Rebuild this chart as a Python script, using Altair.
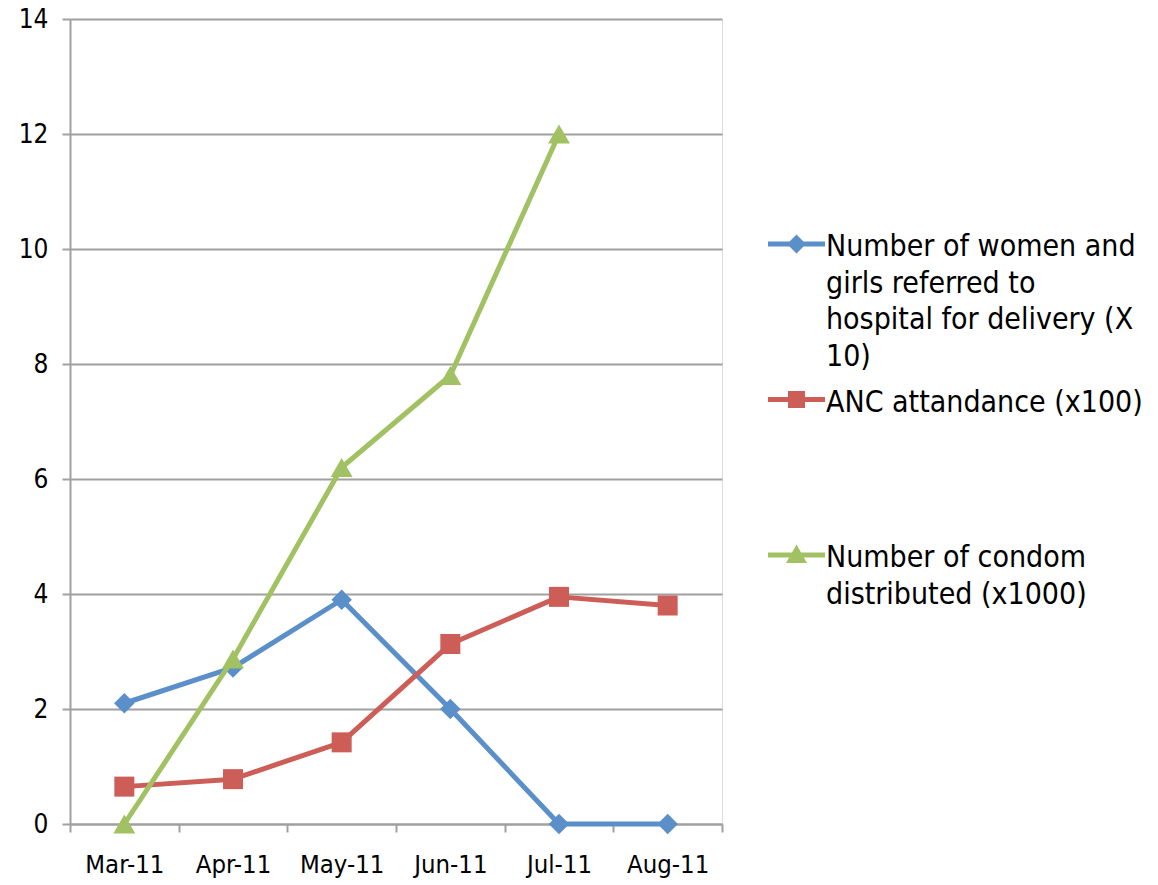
import json
import altair as alt
import pandas as pd

months = ["Mar-11", "Apr-11", "May-11", "Jun-11", "Jul-11", "Aug-11"]
series_names = [
    "Number of women and girls referred to hospital for delivery (X 10)",
    "ANC attandance (x100)",
    "Number of condom distributed (x1000)",
]
referred = [2.1, 2.72, 3.9, 2.0, 0.0, 0.0]
anc = [0.65, 0.78, 1.42, 3.13, 3.95, 3.8]
condoms = [0.0, 2.87, 6.2, 7.8, 12.0, None]
legend_lines = [
    ["Number of women and", "girls referred to", "hospital for delivery (X", "10)"],
    ["ANC attandance (x100)"],
    ["Number of condom", "distributed (x1000)"],
]
colors = ["#5A8FCA", "#CD5D57", "#A1C163"]
shapes = ["diamond", "square", "triangle-up"]
sizes = [420, 400, 480]
y_ticks = [0, 2, 4, 6, 8, 10, 12, 14]

rows = []
for name, vals in zip(series_names, [referred, anc, condoms]):
    for m, v in zip(months, vals):
        if v is not None:
            rows.append({"month": m, "value": v, "series": name})
df = pd.DataFrame(rows)

FONT = "DejaVu Sans Condensed, DejaVu Sans"
GRID = "#A0A0A0"

x_enc = alt.X(
    "month:N",
    sort=months,
    scale=alt.Scale(type="band", paddingInner=0, paddingOuter=0),
    axis=alt.Axis(
        title=None, tickBand="extent", labelAngle=0, labelFont=FONT,
        labelFontSize=25.5, labelColor="#000000", labelPadding=20,
        tickSize=8, tickColor=GRID, tickWidth=2, domainColor=GRID,
        domainWidth=2, grid=False, labelBaseline="top",
    ),
)
y_enc = alt.Y(
    "value:Q",
    scale=alt.Scale(domain=[0, 14], nice=False, zero=True),
    axis=alt.Axis(
        title=None, values=y_ticks, labelFont=FONT, labelFontSize=26,
        labelColor="#000000", labelPadding=14, tickSize=8, tickColor=GRID,
        tickWidth=2, domainColor=GRID, domainWidth=2, grid=True,
        gridColor=GRID, gridWidth=2, gridOpacity=1,
    ),
)
color_scale = alt.Scale(domain=series_names, range=colors)

# legend symbols: a line segment with the series marker (unit = 10 px)
U = 10.0
cy = 12.0 / U          # marker/line centre below label top
x0, x1 = -4.1, 1.6     # line extent
mx = -1.25             # marker centre
t = 0.25
line_part = f"M{x0},{cy - t} L{x1},{cy - t} L{x1},{cy + t} L{x0},{cy + t} Z"
d = 0.95
diamond = f"M{mx},{cy - d} L{mx + d},{cy} L{mx},{cy + d} L{mx - d},{cy} Z"
s = 0.85
square = f"M{mx - s},{cy - s} L{mx + s},{cy - s} L{mx + s},{cy + s} L{mx - s},{cy + s} Z"
tr = 1.05
triangle = f"M{mx},{cy - tr} L{mx + tr},{cy + tr * 0.75} L{mx - tr},{cy + tr * 0.75} Z"
legend_paths = [line_part + " " + p for p in (diamond, square, triangle)]

expr = "''"
for name, lines in reversed(list(zip(series_names, legend_lines))):
    expr = f"datum.label == {json.dumps(name)} ? {json.dumps(lines)} : ({expr})"

legend = alt.Legend(
    title=None, orient="none", legendX=724, legendY=198, direction="vertical",
    columns=1, gridAlign="all", rowPadding=0.5, symbolSize=(2 * U) ** 2,
    symbolStrokeWidth=0, labelFont=FONT, labelFontSize=30,
    labelColor="#000000", labelOffset=2, labelLimit=600,
    labelBaseline="top", labelExpr=expr, padding=0,
)

layers = []
for name, col, shp, sz in zip(series_names, colors, shapes, sizes):
    base = alt.Chart(df).transform_filter(alt.datum.series == name)
    line = base.mark_line(
        color=col, strokeWidth=5, strokeJoin="round", strokeCap="round"
    ).encode(x=x_enc, y=y_enc)
    pts = base.mark_point(
        shape=shp, size=sz, filled=True, opacity=1, strokeWidth=0, color=col
    ).encode(x=x_enc, y=y_enc)
    layers += [line, pts]

legend_layer = alt.Chart(df).transform_filter("false").mark_point(
    filled=True, opacity=1, strokeWidth=0
).encode(
    x=x_enc, y=y_enc,
    color=alt.Color("series:N", scale=color_scale, legend=legend),
    shape=alt.Shape("series:N", scale=alt.Scale(domain=series_names, range=legend_paths), legend=legend),
)
layers.append(legend_layer)

chart = alt.layer(*layers).properties(
    width=652, height=805,
    autosize=alt.AutoSizeParams(type="none"),
    padding={"left": 62, "top": 11, "right": 428, "bottom": 56},
).configure_view(stroke=None).configure(
    style={"guide-label": {"lineHeight": 36.5}}
)

chart.save("out.html", embed_options={"renderer": "svg", "actions": False})
